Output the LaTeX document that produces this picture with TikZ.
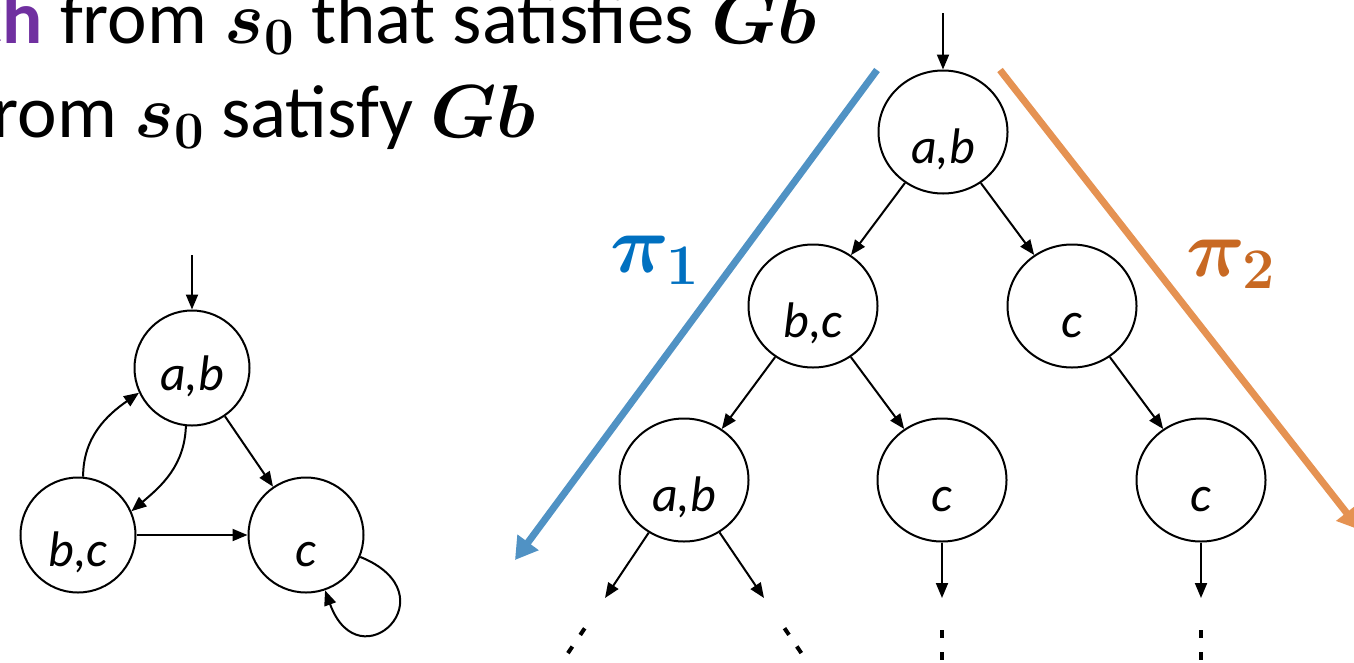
\RequirePackage{fix-cm}
\documentclass[tikz,border=0pt]{standalone}
\usepackage{fontspec}
\usepackage{bm}
\setmainfont{Carlito}
\usetikzlibrary{arrows.meta,shapes.geometric}
\definecolor{runblue}{RGB}{80,146,196}
\definecolor{runorange}{RGB}{229,146,82}
\definecolor{piblue}{RGB}{0,112,192}
\definecolor{piorange}{RGB}{200,105,35}
\definecolor{pathpurple}{RGB}{112,48,160}

\begin{document}
\begin{tikzpicture}[x=1pt,y=1pt,
  state/.style={circle, draw, line width=2pt, minimum size=115pt, inner sep=0pt,
    text height=62pt, text depth=0pt, font=\fontsize{50}{60}\selectfont\itshape},
  treestate/.style={state, ellipse, minimum width=129pt, minimum height=123pt},
  edge/.style={line width=2pt, -{Triangle[length=15pt,width=12pt]}},
  run/.style={line width=7pt, -{Triangle[length=22pt,width=25pt]}},
  more/.style={line width=4pt, dash pattern=on 8pt off 14pt},
  headline/.style={anchor=base east, inner sep=0pt, font=\fontsize{75}{90}\selectfont},
  pilabel/.style={anchor=base west, inner sep=0pt, font=\fontsize{82}{96}\selectfont}]
\useasboundingbox (0,0) rectangle (1354,-662);
\clip (0,0) rectangle (1354,-662);

\node[headline] (line1) at (817,-43) {{\color{pathpurple}\bfseries th} from $\bm{s}_{\bm{0}}$ that satisfies $\bm{Gb}$};
\node[headline] (line2) at (536,-137) {from $\bm{s}_{\bm{0}}$ satisfy $\bm{Gb}$};
%Text

\node[state, text height=44pt] (sab) at (192,-368) {a,b};
\node[state] (sbc) at (78,-535) {b,c};
\node[state] (sc) at (306,-535) {c};
\coordinate (sinit) at (192,-255);
\draw[edge] (sinit) -- (sab);
\draw[edge] (sab) -- (sc);
\draw[edge] (sbc) -- (sc);
\draw[edge] (sab.-96) to[out=-92, in=40] (sbc.24);
\draw[edge] (sbc.85) to[out=90, in=-145] (sab.205);
\draw[edge] (sc.-22) .. controls +(-22:100) and +(-70:100) .. (sc.-71);
%Structure

\node[treestate] (ab) at (943,-132) {a,b};
\node[treestate] (bc) at (813,-306) {b,c};
\node[treestate] (c1) at (1072,-306) {c};
\node[treestate] (ab2) at (684,-480) {a,b};
\node[treestate] (c2) at (942,-480) {c};
\node[treestate] (c3) at (1201,-480) {c};
\coordinate (init) at (943,-13);
\draw[edge] (init) -- (ab);
\draw[edge] (ab) -- (bc);
\draw[edge] (ab) -- (c1);
\draw[edge] (bc) -- (ab2);
\draw[edge] (bc) -- (c2);
\draw[edge] (c1) -- (c3);
%Tree

\coordinate (l1) at (605,-598);
\coordinate (l2) at (764,-598);
\coordinate (l3) at (942,-598);
\coordinate (l4) at (1201,-598);
\draw[edge] (ab2) -- (l1);
\draw[edge] (ab2) -- (l2);
\draw[edge] (c2) -- (l3);
\draw[edge] (c3) -- (l4);
\coordinate (d1) at (584.7,-628.3);
\coordinate (e1) at (566,-656);
\coordinate (d2) at (784.5,-628.2);
\coordinate (e2) at (803.3,-656);
\coordinate (d3) at (942,-630);
\coordinate (e3) at (942,-670);
\coordinate (d4) at (1201,-630);
\coordinate (e4) at (1201,-670);
\draw[more] (d1) -- (e1);
\draw[more] (d2) -- (e2);
\draw[more] (d3) -- (e3);
\draw[more] (d4) -- (e4);
%Dots

\coordinate (r1s) at (877,-70);
\coordinate (r1e) at (515,-560);
\coordinate (r2s) at (1000,-70);
\coordinate (r2e) at (1360,-530);
\draw[run, runblue] (r1s) -- (r1e);
\draw[run, runorange] (r2s) -- (r2e);
\node[pilabel, piblue] (pi1) at (610,-272) {$\bm{\pi}_{\bm{1}}$};
\node[pilabel, piorange] (pi2) at (1186,-276) {$\bm{\pi}_{\bm{2}}$};
%Paths
\end{tikzpicture}
\end{document}
